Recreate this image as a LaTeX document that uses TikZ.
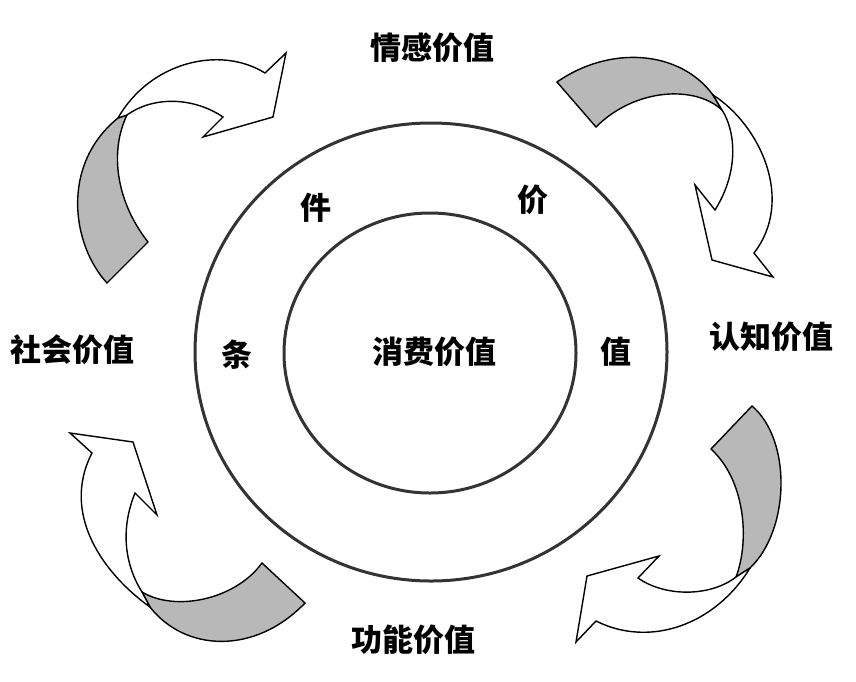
\documentclass[tikz,border=0pt]{standalone}
\usepackage{fontspec}
\newfontfamily\cjk{Noto Sans CJK SC}
\definecolor{bandgray}{HTML}{B8B8B8}
\definecolor{ringcol}{HTML}{333333}
\begin{document}
\begin{tikzpicture}[x=1pt,y=-1pt,
  ring/.style={draw=ringcol,line width=3pt},
  band/.style={draw=black,line width=1.4pt,fill=bandgray,line join=miter},
  head/.style={draw=black,line width=1.4pt,fill=white,line join=miter},
  lbl/.style={font=\cjk\bfseries\fontsize{31}{31}\selectfont,inner sep=0pt}]
\useasboundingbox (0,0) rectangle (856,681);
% rings
\draw[ring] (431,352) ellipse [x radius=236, y radius=229];
\draw[ring] (430,353) ellipse [x radius=146, y radius=140];
% arrow 1 (top-left)
\path[band] (107,283) .. controls (72,245) and (60,165) .. (118,118) -- (127,115) .. controls (110,150) and (115,200) .. (148,242) -- cycle;
\path[head] (118,118) .. controls (150,62) and (220,45) .. (265,73) -- (286,53) -- (273,117) -- (203,137) -- (223,117) .. controls (195,98) and (155,95) .. (127,115) -- cycle;
% arrow 2 (top-right)
\path[band] (557,82) .. controls (610,45) and (680,50) .. (713,95) -- (722,110) .. controls (695,85) and (635,88) .. (596,127) -- cycle;
\path[head] (713,95) .. controls (760,125) and (795,200) .. (754,253) -- (773,277) -- (712,260) -- (695,185) -- (715,210) .. controls (740,170) and (735,130) .. (722,110) -- cycle;
% arrow 3 (bottom-right)
\path[band] (752,406) .. controls (792,440) and (790,530) .. (750,568) -- (736,577) .. controls (750,540) and (745,480) .. (711,449) -- cycle;
\path[head] (750,568) .. controls (715,625) and (650,648) .. (596,621) -- (576,642) -- (587,576) -- (659,556) -- (638,578) .. controls (665,597) and (710,597) .. (736,577) -- cycle;
% arrow 4 (bottom-left)
\path[band] (150,607) .. controls (185,652) and (255,655) .. (305,603) -- (262,563) .. controls (235,600) and (175,612) .. (142,592) -- cycle;
\path[head] (150,607) .. controls (105,575) and (60,515) .. (92,453) -- (70,433) -- (133,442) -- (157,515) -- (135,493) .. controls (120,530) and (125,565) .. (142,592) -- cycle;
% labels
\node[lbl] (qg) at (432,48) {情感价值};
\node[lbl] (sh) at (72,350) {社会价值};
\node[lbl] (rz) at (771,337) {认知价值};
\node[lbl] (gn) at (413,640) {功能价值};
\node[lbl] (xf) at (434,352) {消费价值};
\node[lbl] (c1) at (316,208) {件};
\node[lbl] (c2) at (533,200) {价};
\node[lbl] (c3) at (237,355) {条};
\node[lbl] (c4) at (616,352) {值};
\end{tikzpicture}
\end{document}
